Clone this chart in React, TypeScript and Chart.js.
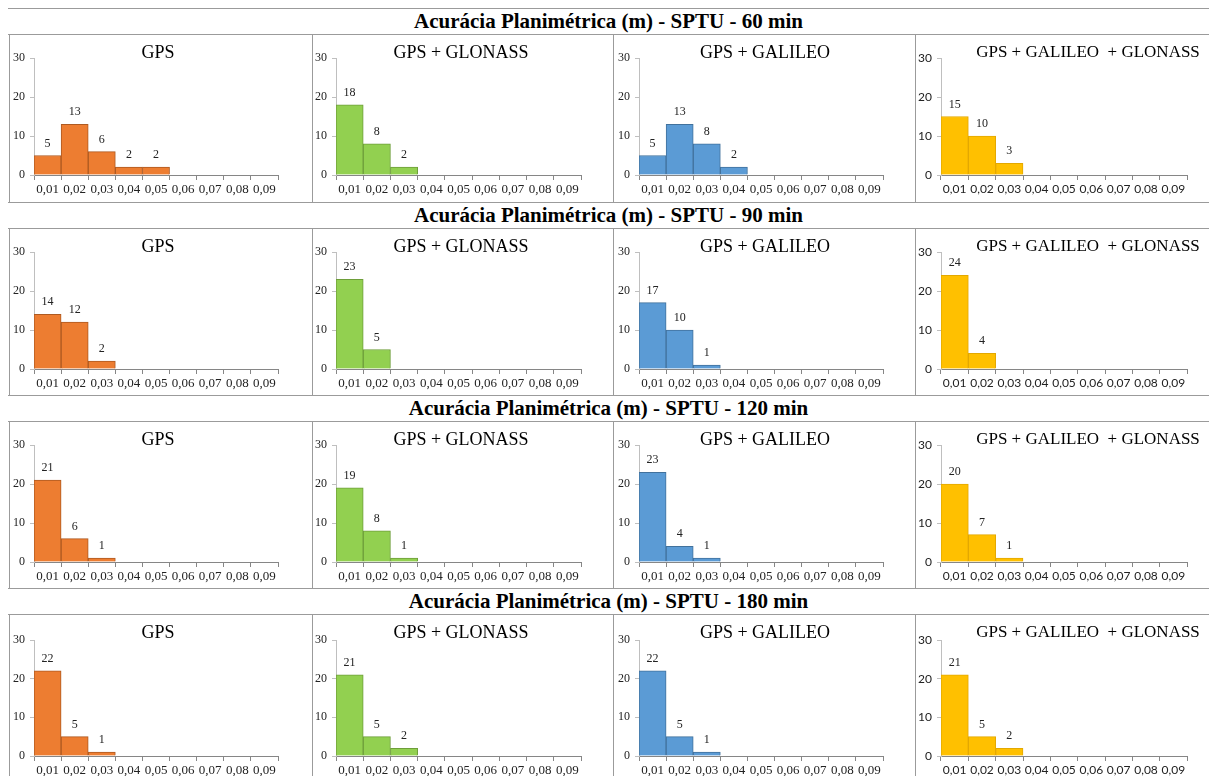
import React, { useEffect, useRef } from "react";
import { Chart, registerables } from "chart.js";

Chart.register(...registerables);

// ---------- data ----------
const categories = ["0,01", "0,02", "0,03", "0,04", "0,05", "0,06", "0,07", "0,08", "0,09"];
const rowTitles = [
  "Acurácia Planimétrica (m) - SPTU - 60 min",
  "Acurácia Planimétrica (m) - SPTU - 90 min",
  "Acurácia Planimétrica (m) - SPTU - 120 min",
  "Acurácia Planimétrica (m) - SPTU - 180 min",
];
const panelTitles = ["GPS", "GPS + GLONASS", "GPS + GALILEO", "GPS + GALILEO  + GLONASS"];
const yMin = 0;
const yMax = 30;
const yStep = 10;

const gps60 = [5, 13, 6, 2, 2, 0, 0, 0, 0];
const gpsGlo60 = [18, 8, 2, 0, 0, 0, 0, 0, 0];
const gpsGal60 = [5, 13, 8, 2, 0, 0, 0, 0, 0];
const gpsGalGlo60 = [15, 10, 3, 0, 0, 0, 0, 0, 0];

const gps90 = [14, 12, 2, 0, 0, 0, 0, 0, 0];
const gpsGlo90 = [23, 5, 0, 0, 0, 0, 0, 0, 0];
const gpsGal90 = [17, 10, 1, 0, 0, 0, 0, 0, 0];
const gpsGalGlo90 = [24, 4, 0, 0, 0, 0, 0, 0, 0];

const gps120 = [21, 6, 1, 0, 0, 0, 0, 0, 0];
const gpsGlo120 = [19, 8, 1, 0, 0, 0, 0, 0, 0];
const gpsGal120 = [23, 4, 1, 0, 0, 0, 0, 0, 0];
const gpsGalGlo120 = [20, 7, 1, 0, 0, 0, 0, 0, 0];

const gps180 = [22, 5, 1, 0, 0, 0, 0, 0, 0];
const gpsGlo180 = [21, 5, 2, 0, 0, 0, 0, 0, 0];
const gpsGal180 = [22, 5, 1, 0, 0, 0, 0, 0, 0];
const gpsGalGlo180 = [21, 5, 2, 0, 0, 0, 0, 0, 0];

const grid = [
  [gps60, gpsGlo60, gpsGal60, gpsGalGlo60],
  [gps90, gpsGlo90, gpsGal90, gpsGalGlo90],
  [gps120, gpsGlo120, gpsGal120, gpsGalGlo120],
  [gps180, gpsGlo180, gpsGal180, gpsGalGlo180],
];

// ---------- styles / layout ----------
const fills = ["#ED7D31", "#92D050", "#5B9BD5", "#FFC000"];
const strokes = ["#AE5A21", "#6E9E3A", "#41719C", "#E3A800"];
const colLefts = [9, 312, 613, 915];
const colWidths = [303, 301, 302, 294];
const yAxisW = [25, 24, 26, 26];
const plotW = [244, 245, 244, 246];
const titleCenters = [149, 149, 152, 173];
const titleSizes = [18, 18, 18, 17];
const rowTops = [8, 202, 395, 588];
const plotTops = [24, 24, 24, 26];
const plotBottoms = [141, 141, 141, 142];
const bandH = 26;
const panelH = 168;
const lineColor = "#9b9b9b";
const SERIF = "'Liberation Serif', 'Times New Roman', serif";
const SANS = "Lato, 'Liberation Sans', sans-serif";

const valueLabels = {
  id: "valueLabels",
  afterDatasetsDraw(chart: any) {
    const ctx = chart.ctx;
    const meta = chart.getDatasetMeta(0);
    const ds = chart.data.datasets[0];
    ctx.save();
    ctx.font = `12px ${SERIF}`;
    ctx.fillStyle = "#222";
    ctx.textAlign = "center";
    ctx.textBaseline = "alphabetic";
    meta.data.forEach((el: any, i: number) => {
      const v = ds.data[i];
      if (v == null || v === 0) return;
      ctx.fillText(String(v), el.x, el.y - 9);
    });
    ctx.restore();
  },
};

function Panel({ values, col, row }: { values: number[]; col: number; row: number }) {
  const ref = useRef<HTMLCanvasElement | null>(null);
  useEffect(() => {
    if (!ref.current) return;
    const W = colWidths[col];
    const tickFont = col === 3 ? { family: SANS, size: 12 } : { family: SERIF, size: 13 };
    const yFont = col === 3 ? { family: SANS, size: 12 } : { family: SERIF, size: 12 };
    const chart = new Chart(ref.current, {
      type: "bar",
      data: {
        labels: categories,
        datasets: [
          {
            data: values.map((v) => (v === 0 ? null : v)),
            backgroundColor: fills[col],
            borderColor: strokes[col],
            borderWidth: 1,
            borderSkipped: "bottom",
            barPercentage: 1,
            categoryPercentage: 1,
          } as any,
        ],
      },
      options: {
        responsive: false,
        animation: false,
        events: [],
        layout: { padding: { left: 0, right: W - yAxisW[col] - plotW[col], top: plotTops[row], bottom: 0 } },
        plugins: { legend: { display: false }, tooltip: { enabled: false }, title: { display: false } },
        scales: {
          x: {
            offset: true,
            grid: { display: true, offset: true, drawOnChartArea: false, drawTicks: true, tickLength: 5, color: "#868686" },
            border: { display: true, color: "#868686" },
            ticks: { font: tickFont, color: "#222", padding: 2, maxRotation: 0, minRotation: 0, autoSkip: false },
            afterFit: (s: any) => {
              s.height = panelH - plotBottoms[row];
            },
          },
          y: {
            min: yMin,
            max: yMax,
            ticks: { stepSize: yStep, font: yFont, color: "#222", padding: 5 },
            grid: { drawOnChartArea: false, drawTicks: true, tickLength: 4, color: "#bfbfbf" },
            border: { display: true, color: "#bfbfbf" },
            afterFit: (s: any) => {
              s.width = yAxisW[col];
            },
          },
        },
      } as any,
      plugins: [valueLabels],
    });
    return () => chart.destroy();
  }, [values, col, row]);
  return <canvas ref={ref} width={colWidths[col]} height={panelH} style={{ display: "block", width: colWidths[col], height: panelH }} />;
}

export default function App() {
  const lines: React.ReactNode[] = [];
  rowTops.forEach((t, r) => {
    lines.push(<div key={`ht${r}`} style={{ position: "absolute", left: 8, top: t, width: 1209 - 8, height: 1, background: lineColor }} />);
    lines.push(<div key={`hp${r}`} style={{ position: "absolute", left: 8, top: t + bandH, width: 1209 - 8, height: 1, background: lineColor }} />);
    const bottom = r < 3 ? rowTops[r + 1] : 776;
    colLefts.forEach((x, c) => {
      lines.push(
        <div key={`v${r}-${c}`} style={{ position: "absolute", left: x, top: t + bandH, width: 1, height: bottom - (t + bandH), background: lineColor }} />
      );
    });
  });

  return (
    <div style={{ position: "absolute", left: 0, top: 0, width: 1209, height: 776, overflow: "hidden", background: "#fff" }}>
      {rowTops.map((t, r) => (
        <div
          key={`rt${r}`}
          style={{
            position: "absolute",
            left: 8,
            top: t,
            width: 1209 - 8,
            height: bandH,
            lineHeight: `${bandH}px`,
            textAlign: "center",
            fontFamily: SERIF,
            fontWeight: "bold",
            fontSize: 21,
            color: "#000",
            whiteSpace: "nowrap",
          }}
        >
          {rowTitles[r]}
        </div>
      ))}
      {grid.map((row, r) =>
        row.map((vals, c) => (
          <div key={`p${r}-${c}`} style={{ position: "absolute", left: colLefts[c], top: rowTops[r] + bandH }}>
            <Panel values={vals} col={c} row={r} />
            <div
              style={{
                position: "absolute",
                left: titleCenters[c] - 150,
                width: 300,
                top: 7,
                height: 22,
                lineHeight: "22px",
                textAlign: "center",
                fontFamily: SERIF,
                fontSize: titleSizes[c],
                color: "#000",
                whiteSpace: "pre",
              }}
            >
              {panelTitles[c]}
            </div>
          </div>
        ))
      )}
      {lines}
    </div>
  );
}
